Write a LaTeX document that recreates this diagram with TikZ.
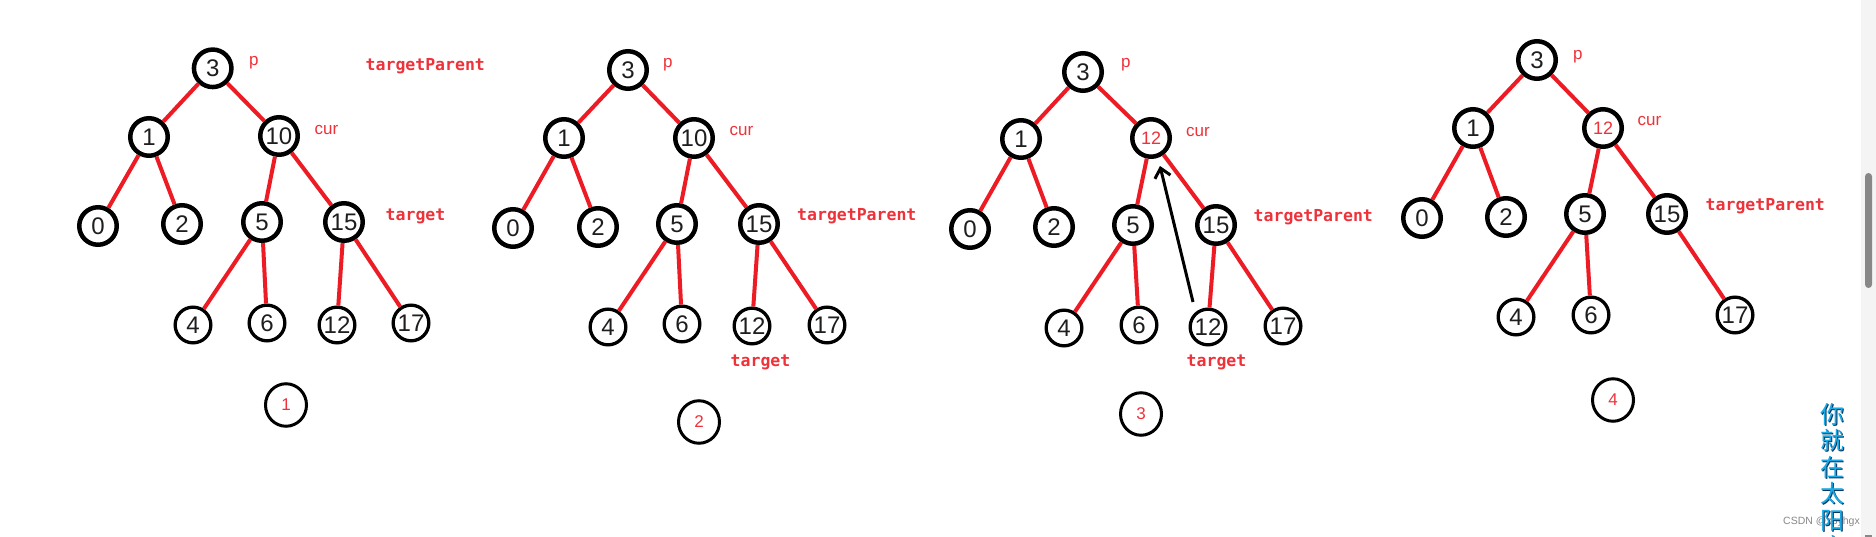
\documentclass[tikz,border=0pt]{standalone}
\usepackage{fontspec}
\setmainfont{Liberation Sans}
\newfontfamily\labmono{DejaVu Sans Mono}
\newfontfamily\cjkfont{Noto Sans CJK SC}
\usetikzlibrary{arrows.meta,shapes.geometric}
\definecolor{edgered}{RGB}{237,28,36}
\definecolor{labred}{RGB}{238,50,58}
\definecolor{numgray}{RGB}{30,30,30}
\definecolor{wmblue}{RGB}{22,170,230}
\definecolor{wmdark}{RGB}{12,50,90}
\definecolor{sbbg}{RGB}{244,244,244}
\definecolor{sbbar}{RGB}{136,136,136}
\tikzset{
  bign/.style={circle,draw=black,line width=4.5pt,minimum size=37.5pt,inner sep=0pt,
    font=\fontsize{24}{24}\selectfont,text=numgray},
  leafn/.style={bign,line width=3.3pt,minimum size=35.7pt},
  stepc/.style={ellipse,draw=black,line width=3pt,minimum width=41pt,minimum height=42.5pt,
    inner sep=0pt,text=labred,font=\fontsize{17}{17}\selectfont},
  tedge/.style={draw=edgered,line width=4pt},
  boldlab/.style={anchor=base west,inner sep=0pt,text=labred,
    font=\labmono\bfseries\fontsize{16.5}{17}\selectfont},
  thinlab/.style={anchor=base west,inner sep=0pt,text=labred,font=\fontsize{17}{17}\selectfont},
  backarrow/.style={draw=black,line width=3pt,-{Straight Barb[length=9pt,width=16pt]}},
}
\begin{document}
\begin{tikzpicture}[x=1pt,y=-1pt]
\useasboundingbox (0,0) rectangle (1876,537);
\fill[white] (0,0) rectangle (1876,537);
% scrollbar
\fill[sbbg] (1861,0) rectangle (1876,537);
\fill[sbbar,rounded corners=3.5pt] (1865,173) rectangle (1872,288);
\fill[sbbar] (1865,535) rectangle (1872,537);

% ---------- panel 1 ----------
\node[bign] (a3) at (212.7,68.3) {3};
\node[bign] (a1) at (149,137) {1};
\node[bign] (a10) at (279,136) {10};
\node[bign] (a0) at (98,226) {0};
\node[bign] (a2) at (182,224) {2};
\node[bign] (a5) at (262,222) {5};
\node[bign] (a15) at (344,222) {15};
\node[leafn] (a4) at (193,325) {4};
\node[leafn] (a6) at (267,323) {6};
\node[leafn] (a12) at (337,325) {12};
\node[leafn] (a17) at (411,323) {17};
\node[stepc] (as) at (286,405) {1};
\draw[tedge] (a3) -- (a1);
\draw[tedge] (a3) -- (a10);
\draw[tedge] (a1) -- (a0);
\draw[tedge] (a1) -- (a2);
\draw[tedge] (a10) -- (a5);
\draw[tedge] (a10) -- (a15);
\draw[tedge] (a5) -- (a4);
\draw[tedge] (a5) -- (a6);
\draw[tedge] (a15) -- (a12);
\draw[tedge] (a15) -- (a17);
\node[thinlab] (ap) at (249,66) {p};
\node[boldlab] (atp) at (365.5,70.5) {targetParent};
\node[thinlab] (acur) at (314.5,135) {cur};
\node[boldlab] (at) at (385.5,220.5) {target};

% ---------- panel 2 ----------
\node[bign] (b3) at (628,70) {3};
\node[bign] (b1) at (564,138) {1};
\node[bign] (b10) at (694,138) {10};
\node[bign] (b0) at (513,228) {0};
\node[bign] (b2) at (598,227) {2};
\node[bign] (b5) at (677,224) {5};
\node[bign] (b15) at (759,224) {15};
\node[leafn] (b4) at (608,327) {4};
\node[leafn] (b6) at (682,324) {6};
\node[leafn] (b12) at (752,326) {12};
\node[leafn] (b17) at (827,325) {17};
\node[stepc] (bs) at (699,422) {2};
\draw[tedge] (b3) -- (b1);
\draw[tedge] (b3) -- (b10);
\draw[tedge] (b1) -- (b0);
\draw[tedge] (b1) -- (b2);
\draw[tedge] (b10) -- (b5);
\draw[tedge] (b10) -- (b15);
\draw[tedge] (b5) -- (b4);
\draw[tedge] (b5) -- (b6);
\draw[tedge] (b15) -- (b12);
\draw[tedge] (b15) -- (b17);
\node[thinlab] (bp) at (663,67.5) {p};
\node[thinlab] (bcur) at (729.5,136) {cur};
\node[boldlab] (btp) at (797,220.7) {targetParent};
\node[boldlab] (bt) at (730.5,366) {target};

% ---------- panel 3 ----------
\node[bign] (c3) at (1083,72) {3};
\node[bign] (c1) at (1021,139) {1};
\node[bign,text=labred,font=\fontsize{18}{18}\selectfont] (c12c) at (1151,138) {12};
\node[bign] (c0) at (970,229) {0};
\node[bign] (c2) at (1054,227) {2};
\node[bign] (c5) at (1133,225) {5};
\node[bign] (c15) at (1216,225) {15};
\node[leafn] (c4) at (1064,328) {4};
\node[leafn] (c6) at (1139,325) {6};
\node[leafn] (c12) at (1208,327) {12};
\node[leafn] (c17) at (1283,326) {17};
\node[stepc] (cs) at (1141,414) {3};
\draw[tedge] (c3) -- (c1);
\draw[tedge] (c3) -- (c12c);
\draw[tedge] (c1) -- (c0);
\draw[tedge] (c1) -- (c2);
\draw[tedge] (c12c) -- (c5);
\draw[tedge] (c12c) -- (c15);
\draw[tedge] (c5) -- (c4);
\draw[tedge] (c5) -- (c6);
\draw[tedge] (c15) -- (c12);
\draw[tedge] (c15) -- (c17);
\coordinate (arrS) at (1193,302);
\coordinate (arrT) at (1160,166);
\draw[backarrow] (arrS) -- (arrT);
\node[thinlab] (cp) at (1121,68) {p};
\node[thinlab] (ccur) at (1186,136.7) {cur};
\node[boldlab] (ctp) at (1253.5,221.7) {targetParent};
\node[boldlab] (ct) at (1186.5,366.7) {target};

% ---------- panel 4 ----------
\node[bign] (d3) at (1537,60) {3};
\node[bign] (d1) at (1473,128) {1};
\node[bign,text=labred,font=\fontsize{18}{18}\selectfont] (d12c) at (1603,128) {12};
\node[bign] (d0) at (1422,218) {0};
\node[bign] (d2) at (1506,217) {2};
\node[bign] (d5) at (1585,214) {5};
\node[bign] (d15) at (1667,214) {15};
\node[leafn] (d4) at (1516,317) {4};
\node[leafn] (d6) at (1591,315) {6};
\node[leafn] (d17) at (1735,315) {17};
\node[stepc] (ds) at (1613,400) {4};
\draw[tedge] (d3) -- (d1);
\draw[tedge] (d3) -- (d12c);
\draw[tedge] (d1) -- (d0);
\draw[tedge] (d1) -- (d2);
\draw[tedge] (d12c) -- (d5);
\draw[tedge] (d12c) -- (d15);
\draw[tedge] (d5) -- (d4);
\draw[tedge] (d5) -- (d6);
\draw[tedge] (d15) -- (d17);
\node[thinlab] (dp) at (1573,59.3) {p};
\node[thinlab] (dcur) at (1637.5,126) {cur};
\node[boldlab] (dtp) at (1705.5,211) {targetParent};

% ---------- watermark ----------
\node[anchor=base west,inner sep=0pt,text=sbbar,font=\fontsize{10.5}{11}\selectfont] (wmcsdn) at (1783,524) {CSDN @zbyhgx};
\node[anchor=north,inner sep=0pt,align=center,text=wmdark,
  font=\cjkfont\fontsize{24}{26.5}\selectfont] (wmshadow) at (1833,404) {你\\就\\在\\太\\阳\\底};
\node[anchor=north,inner sep=0pt,align=center,text=wmblue,
  font=\cjkfont\fontsize{24}{26.5}\selectfont] (wmtext) at (1832,403) {你\\就\\在\\太\\阳\\底};
\end{tikzpicture}
\end{document}
